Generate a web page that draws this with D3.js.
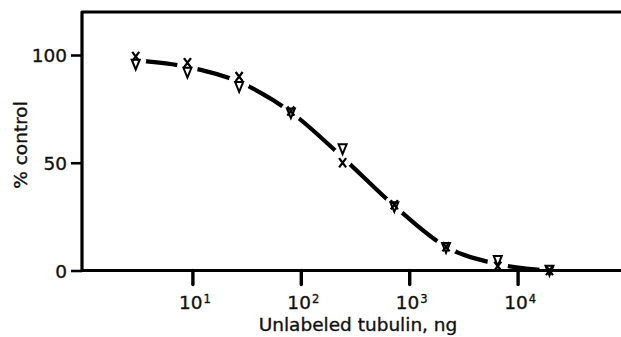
<!DOCTYPE html>
<html>
<head>
<meta charset="utf-8">
<script src="https://cdn.jsdelivr.net/npm/d3@7"></script>
<style>
html, body { margin: 0; padding: 0; background: #fff; }
svg { display: block; }
text { font-family: "DejaVu Sans", sans-serif; fill: #111; stroke: #111; stroke-width: 0.35px; }
</style>
</head>
<body>
<svg id="chart" width="621" height="337"></svg>
<script>
// Data
const doses = [3, 9, 27, 81, 243, 729, 2187, 6561, 19683];          // unlabeled tubulin, ng
const crossValues = [99.3, 96.4, 90.0, 74.0, 50.0, 30.5, 11.0, 2.0, 0.0];    // "X" series, % control
const triangleValues = [95.6, 91.8, 85.2, 73.0, 56.3, 29.5, 10.5, 4.5, 0.0]; // "∇" series, % control
const curveValues = [97.5, 94.5, 87.5, 73.5, 52.5, 30.0, 11.0, 3.0, 0.0];    // fitted dashed curve
const xTickValues = [10, 100, 1000, 10000];
const xTickExponents = ["1", "2", "3", "4"];
const yTickValues = [0, 50, 100];

(function () {
const svg = d3.select("#chart");
const W = 621, H = 337;
const mLeft = 82, mTop = 12, mBottom = 270.5;

const x = d3.scaleLog().domain([1, 1e5]).range([84, 626]);
const y = d3.scaleLinear().domain([0, 120]).range([mBottom, 11.9]);

// Frame: left axis, top line, bottom axis line
svg.append("path")
  .attr("d", `M${W},${mTop} L${mLeft},${mTop} L${mLeft},${mBottom} L${W},${mBottom}`)
  .attr("fill", "none").attr("stroke", "#000").attr("stroke-width", 3.2)
  .attr("stroke-linejoin", "round");

// Y axis
const yAxis = svg.append("g").attr("transform", `translate(${mLeft},0)`)
  .call(d3.axisLeft(y).tickValues(yTickValues).tickSize(11).tickPadding(4).tickFormat(d3.format("d")));
yAxis.select(".domain").remove();
yAxis.selectAll(".tick line").attr("stroke", "#000").attr("stroke-width", 2.6);
yAxis.selectAll(".tick text").attr("font-size", 18.5).attr("font-family", "DejaVu Sans, sans-serif")
  .attr("fill", "#111").attr("dy", "0.36em");

// X axis
const xAxis = svg.append("g").attr("transform", `translate(0,${mBottom})`)
  .call(d3.axisBottom(x).tickValues(xTickValues).tickSize(14).tickFormat(() => ""));
xAxis.select(".domain").remove();
xAxis.selectAll(".tick line").attr("stroke", "#000").attr("stroke-width", 3.4).attr("stroke-linecap", "round");
xAxis.selectAll(".tick").each(function(d, i) {
  const t = d3.select(this).select("text")
    .attr("y", 0).attr("dy", 0)
    .attr("transform", "translate(2,38)")
    .attr("text-anchor", "middle")
    .attr("font-size", 18.5).attr("font-family", "DejaVu Sans, sans-serif").attr("fill", "#111");
  t.text(null);
  t.append("tspan").text("10");
  t.append("tspan").attr("font-size", 11.5).attr("dy", -5.5).attr("dx", 1).text(xTickExponents[i]);
});

// Axis titles
svg.append("text")
  .attr("x", 358).attr("y", 331)
  .attr("text-anchor", "middle").attr("font-size", 18.5)
  .text("Unlabeled tubulin, ng");
svg.append("text")
  .attr("transform", "translate(27,145) rotate(-90)")
  .attr("text-anchor", "middle").attr("font-size", 18.5)
  .text("% control");

// Mask: gaps in the curve around each marker
const defs = svg.append("defs");
const mask = defs.append("mask").attr("id", "gapMask").attr("maskUnits", "userSpaceOnUse")
  .attr("x", 0).attr("y", 0).attr("width", W).attr("height", H);
mask.append("rect").attr("x", 0).attr("y", 0).attr("width", W).attr("height", H).attr("fill", "#fff");
mask.selectAll("circle").data(doses).join("circle")
  .attr("cx", d => x(d))
  .attr("cy", (d, i) => y(curveValues[i]))
  .attr("r", 10.5).attr("fill", "#000");

// Fitted curve
const curvePts = doses.map((d, i) => [x(d), y(curveValues[i])]);
svg.append("path")
  .attr("d", d3.line().curve(d3.curveMonotoneX)(curvePts))
  .attr("fill", "none").attr("stroke", "#000").attr("stroke-width", 4.2)
  .attr("mask", "url(#gapMask)");

// Triangle markers (open, pointing down)
svg.append("g").selectAll("path").data(doses).join("path")
  .attr("d", (d, i) => {
    const cx = x(d), cy = y(triangleValues[i]);
    return `M${cx - 4},${cy - 4.8} L${cx + 4},${cy - 4.8} L${cx},${cy + 5} Z`;
  })
  .attr("fill", "none").attr("stroke", "#000").attr("stroke-width", 2).attr("stroke-linejoin", "miter");

// X markers
svg.append("g").selectAll("path").data(doses).join("path")
  .attr("d", (d, i) => {
    const cx = x(d), cy = y(crossValues[i]);
    return `M${cx - 3.5},${cy - 4.6} L${cx + 3.5},${cy + 4.6} M${cx + 3.5},${cy - 4.6} L${cx - 3.5},${cy + 4.6}`;
  })
  .attr("fill", "none").attr("stroke", "#000").attr("stroke-width", 2.3);
})();
</script>
</body>
</html>
